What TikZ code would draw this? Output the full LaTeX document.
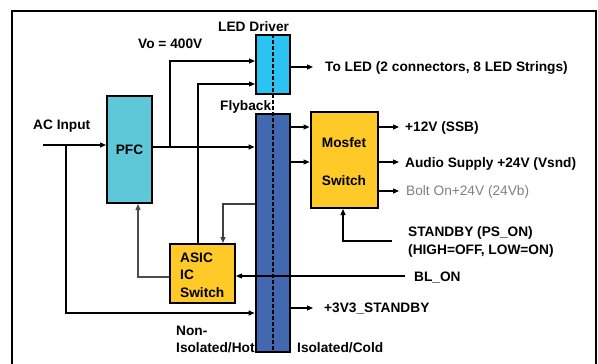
\documentclass[tikz,border=0pt]{standalone}
\usepackage{fontspec}
\setmainfont{Liberation Sans}
\usetikzlibrary{arrows.meta}
\definecolor{ledc}{HTML}{2BC4F2}
\definecolor{pfcc}{HTML}{5EC8D8}
\definecolor{flyc}{HTML}{4168B0}
\definecolor{yelc}{HTML}{FFC928}
\definecolor{grayt}{HTML}{808080}
\tikzset{
  box/.style={draw=black, line width=2pt, inner sep=0pt},
  conn/.style={line width=1.1pt, -{Triangle[length=6pt,width=5pt]}},
  plain/.style={line width=1.1pt},
  lbl/.style={font=\bfseries\fontsize{13.7}{17.5}\selectfont, inner sep=0pt, anchor=west, align=left},
}
\begin{document}
\begin{tikzpicture}[x=1pt,y=-1pt]
\useasboundingbox (0,0) rectangle (598,364);
% frame
\draw[line width=2.4pt] (12,370) -- (12,11) -- (596,11) -- (596,370);
% boxes
\node[box, fill=ledc, minimum width=34pt, minimum height=59pt] (led) at (273,64.5) {};
\node[box, fill=flyc, line width=2.8pt, minimum width=34pt, minimum height=238pt] (fly) at (273,233) {};
\node[box, fill=pfcc, minimum width=45pt, minimum height=107pt, font=\bfseries\fontsize{13.7}{17.5}\selectfont] (pfc) at (129.5,149.5) {PFC};
\node[box, fill=yelc, minimum width=65pt, minimum height=59pt] (asic) at (202.5,273.5) {};
\node[lbl] (asict) at (180,275) {ASIC\\IC\\Switch};
\node[box, fill=yelc, minimum width=67pt, minimum height=96pt] (mos) at (344,160) {};
\node[lbl, anchor=center, align=center, font=\bfseries\fontsize{13.7}{38}\selectfont] (most) at (344,162) {Mosfet\\Switch};
% labels
\node[lbl] (ledl) at (218,27) {LED Driver};
\node[lbl] (flyl) at (220,107) {Flyback};
\node[lbl] (vo) at (138,44) {Vo = 400V};
\node[lbl] (ac) at (33,126) {AC Input};
\node[lbl] (toled) at (325,68) {To LED (2 connectors, 8 LED Strings)};
\node[lbl] (v12) at (405,128) {+12V (SSB)};
\node[lbl] (aud) at (405,163.5) {Audio Supply +24V (Vsnd)};
\node[lbl, text=grayt, font=\fontsize{13.7}{17.5}\selectfont] (bolt) at (406,192) {Bolt On+24V (24Vb)};
\node[lbl, font=\bfseries\fontsize{13.7}{18}\selectfont] (stby) at (408,242) {STANDBY (PS\_ON)\\(HIGH=OFF, LOW=ON)};
\node[lbl] (blon) at (414,278) {BL\_ON};
\node[lbl] (v33) at (324,308.5) {+3V3\_STANDBY};
\node[lbl, font=\bfseries\fontsize{13.7}{17}\selectfont] (hot) at (176,339) {Non-\\Isolated/Hot};
\node[lbl] (cold) at (297,347.5) {Isolated/Cold};
% coordinates
\coordinate (acin) at (43,145);
\coordinate (acbr) at (66,145);
\coordinate (acdn) at (66,313);
\coordinate (pfco) at (152,147);
\coordinate (vobr) at (170,147);
\coordinate (votop) at (170,61);
\coordinate (asup) at (198,84);
\coordinate (fbk) at (223,204);
\coordinate (pfcfb) at (138,277);
\coordinate (blend) at (405,276);
\coordinate (stend) at (392,241);
\coordinate (stcor) at (343,241);
\coordinate (ledo) at (313,67);
\coordinate (m1) at (399,127);
\coordinate (m2) at (399,162);
\coordinate (m3) at (399,191);
\coordinate (v33e) at (313,308);
% connectors
\draw[conn] (acin) -- (pfc.west |- acin);
\draw[conn] (acbr) -- (acdn) -- (fly.west |- acdn);
\draw[conn] (pfco) -- (fly.west |- pfco);
\draw[conn] (vobr) -- (votop) -- (led.west |- votop);
\draw[conn] (asic.north -| asup) -- (asup) -- (led.west |- asup);
\draw[conn] (led.east |- ledo) -- (ledo);
\draw[conn, black!75] (fly.west |- fbk) -- (fbk) -- (fbk |- asic.north);
\draw[conn, black!70] (asic.west |- pfcfb) -- (pfcfb) -- (pfcfb |- pfc.south);
\draw[conn] (fly.east |- m1) -- (mos.west |- m1);
\draw[conn] (fly.east |- m2) -- (mos.west |- m2);
\draw[conn] (mos.east |- m1) -- (m1);
\draw[conn] (mos.east |- m2) -- (m2);
\draw[conn] (mos.east |- m3) -- (m3);
\draw[conn] (stend) -- (stcor) -- (stcor |- mos.south);
\draw[conn] (fly.east |- v33e) -- (v33e);
% dashed isolation line
\draw[dashed, line width=1.1pt, dash pattern=on 3.5pt off 2.5pt] (led.north) -- (fly.south);
\draw[conn] (blend) -- (asic.east |- blend);
\end{tikzpicture}
\end{document}
